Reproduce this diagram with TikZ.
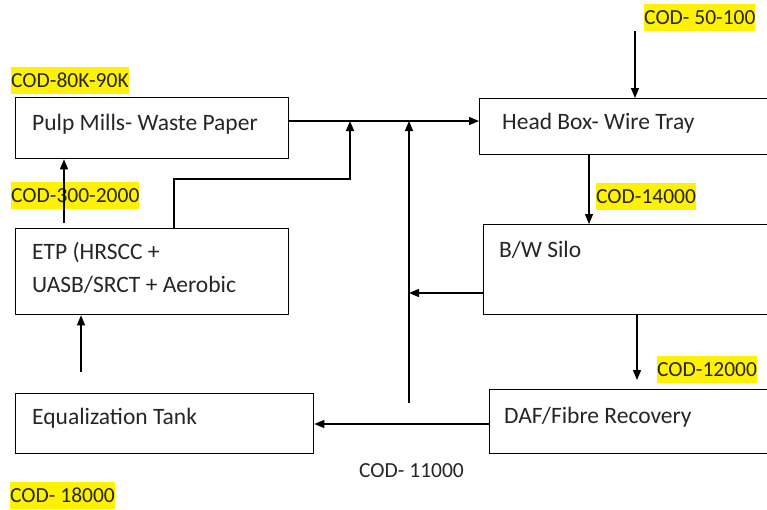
\documentclass[tikz,border=0pt]{standalone}
\usepackage{fontspec}
\setmainfont{Carlito}
\usetikzlibrary{arrows.meta}
\begin{document}
\begin{tikzpicture}[x=1pt,y=-1pt,
  box/.style={draw, line width=1.3pt, rectangle, inner sep=0pt, anchor=north west},
  txt/.style={inner sep=0pt, anchor=base west, font=\fontsize{23.5}{28}\selectfont, text=black!85},
  cod/.style={inner sep=0pt, anchor=north west, fill=yellow, text height=20.5pt, text depth=5.8pt, font=\fontsize{21.5}{26}\selectfont, text=black!85},
  codplain/.style={inner sep=0pt, anchor=north west, text height=20.5pt, text depth=5.8pt, font=\fontsize{21.5}{26}\selectfont, text=black!85},
  arr/.style={line width=1.3pt, -{Triangle[length=10pt,width=8pt]}},
  ln/.style={line width=1.3pt}]
\useasboundingbox (0,0) rectangle (767,509);
\fill[white] (0,0) rectangle (767,509);
\clip (0,0) rectangle (767,509);

% labels (highlighted)
\node[cod] (c50) at (644,4) {COD- 50-100};
\node[cod] (c80) at (11,67) {COD-80K-90K};
\node[cod] (c300) at (11,182) {COD-300-2000};
\node[cod] (c14) at (596,183) {COD-14000};
\node[cod] (c12) at (657,356) {COD-12000};
\node[cod] (c18) at (10,482) {COD- 18000};
\node[codplain] (c11) at (359,457) {COD- 11000};

% boxes
\node[box, minimum width=273pt, minimum height=61pt] (pulp) at (15,97) {};
\node[box, minimum width=273pt, minimum height=86pt] (etp) at (15,228) {};
\node[box, minimum width=298pt, minimum height=60pt] (eq) at (15,393) {};
\node[box, minimum width=330pt, minimum height=56pt] (head) at (479,98) {};
\node[box, minimum width=330pt, minimum height=90pt] (bw) at (483,224) {};
\node[box, minimum width=330pt, minimum height=64pt] (daf) at (489,389) {};

% box texts
\node[txt] (pulpt) at (32,130) {Pulp Mills- Waste Paper};
\node[txt] (etpt1) at (32,259) {ETP (HRSCC +};
\node[txt] (etpt2) at (32,292) {UASB/SRCT + Aerobic};
\node[txt] (eqt) at (32,424) {Equalization Tank};
\node[txt] (headt) at (502,129) {Head Box- Wire Tray};
\node[txt] (bwt) at (499,257) {B/W Silo};
\node[txt] (daft) at (504,423) {DAF/Fibre Recovery};

% coordinates
\coordinate (in50) at (635,31);
\coordinate (j1) at (350,121);
\coordinate (j2) at (409,121);
\coordinate (etpup) at (174,179);
\coordinate (retup) at (409,403);
\coordinate (bwj) at (409,293);
\coordinate (eqtop) at (81,372);
\coordinate (etptop) at (64,223);
\coordinate (dafin) at (637,380);

% connectors
\draw[arr] (in50) -- (in50 |- head.north);
\draw[arr] (pulp.east |- j1) -- (head.west |- j1);
\draw[arr] (etpup |- etp.north) -- (etpup) -- (etpup -| j1) -- (j1);
\draw[arr] (retup) -- (j2);
\draw[arr] (bw.west |- bwj) -- (bwj);
\draw[arr] (head.south -| 589,0) -- (bw.north -| 589,0);
\draw[arr] (bw.south -| dafin) -- (dafin);
\draw[arr] (daf.west |- 0,424) -- (eq.east |- 0,424);
\draw[arr] (eqtop) -- (eqtop |- etp.south);
\draw[arr] (etptop) -- (etptop |- pulp.south);
\end{tikzpicture}
\end{document}
